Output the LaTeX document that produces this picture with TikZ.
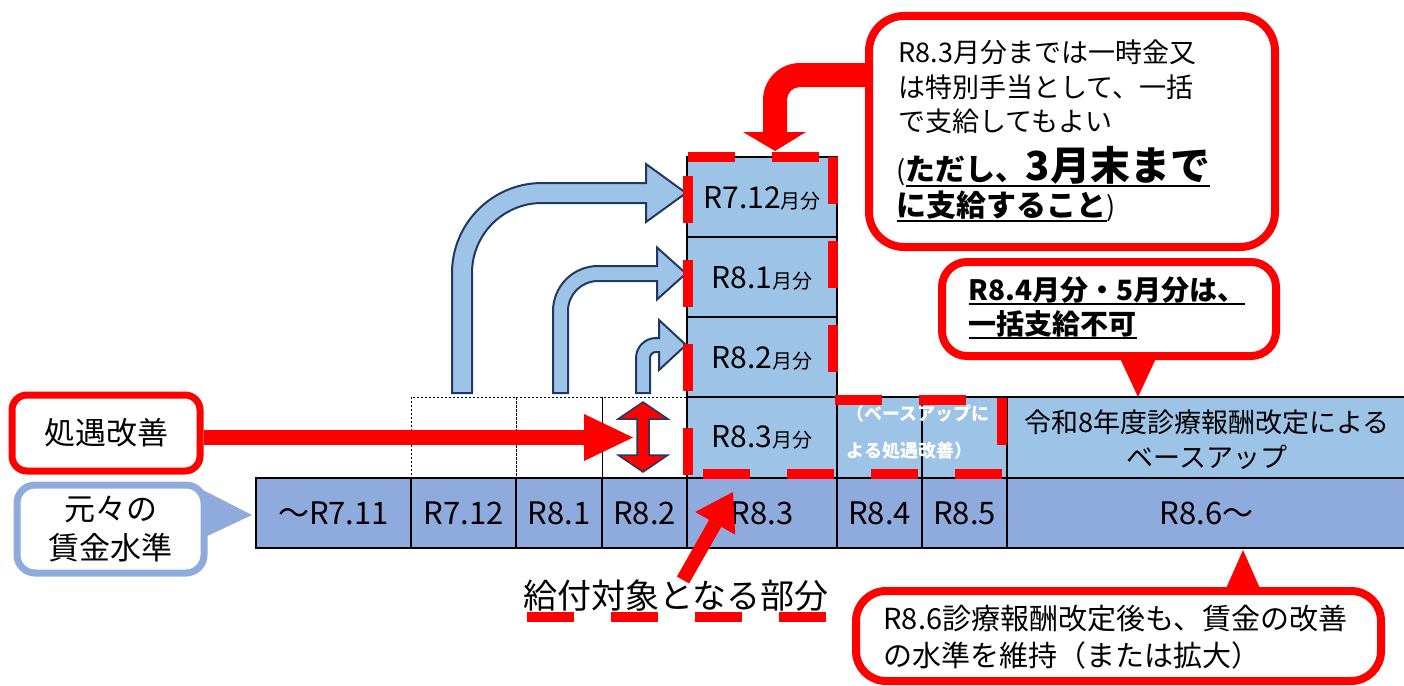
\documentclass[tikz,border=0pt]{standalone}
\usepackage{fontspec}
\setmainfont{Noto Sans CJK JP}
\usetikzlibrary{arrows.meta}
\definecolor{myred}{HTML}{FF0000}
\definecolor{lblue}{HTML}{9DC3E6}
\definecolor{bblue}{HTML}{8FAADC}
\definecolor{navy}{HTML}{203864}
\newcommand\fs[1]{\fontsize{#1}{#1}\selectfont}
\newcommand\myul[2][5]{\setbox0\hbox{#2}\rlap{\rule[-#1pt]{\wd0}{2.5pt}}\box0}
\newcommand\bentarrow[8]{%
  \pgfmathsetmacro\ri{#5-#2}%
  \filldraw[fill=lblue, draw=navy, line width=2pt, line join=miter]
    (#1,#3) -- (#1,#4+#5)
    .. controls (#1,#4+#5-0.552*#5) and (#1+#5-0.552*#5,#4) .. (#1+#5,#4)
    -- (#6,#4) -- (#6,#4+#2/2-#8) -- (#7,#4+#2/2) -- (#6,#4+#2/2+#8) -- (#6,#4+#2)
    -- (#1+#5,#4+#2)
    .. controls (#1+#5-0.552*\ri,#4+#2) and (#1+#2,#4+#5-0.552*\ri) .. (#1+#2,#4+#5)
    -- (#1+#2,#3) -- cycle;}
\begin{document}
\begin{tikzpicture}[x=1pt,y=-1pt,
  cellline/.style={draw=black, line width=1.5pt},
  dotbox/.style={draw=black, line width=0.8pt, dash pattern=on 2pt off 2pt},
  rdash/.style={draw=myred, line width=10pt, dash pattern=on 47pt off 37pt},
  redcall/.style={draw=myred, line width=8pt, fill=white},
  lbl/.style={font=\fs{31}},
  colbl/.style={font=\fs{30}},
]
\useasboundingbox (0,0) rectangle (1404,685);

% bottom row
\foreach \a/\b/\t/\n in {256/411/{～R7.11}/b1, 411/516/{R7.12}/b2, 516/602/{R8.1}/b3, 602/687/{R8.2}/b4, 687/837/{R8.3}/b5, 837/922/{R8.4}/b6, 922/1007/{R8.5}/b7, 1007/1406/{R8.6～}/b8}{
  \draw[cellline, fill=bblue] (\a,478) rectangle (\b,548);
  \node[lbl] (\n) at ({(\a+\b)/2},513) {\t};
}

% second row
\draw[dotbox] (411,397) rectangle (516,478);
\draw[dotbox] (516,397) rectangle (602,478);
\draw[dotbox] (602,397) rectangle (687,478);
\draw[cellline, fill=lblue] (687,397) rectangle (837,478);
\node[colbl] (m83) at (762,437) {R8.3{\fs{20}月分}};
\draw[cellline, fill=lblue] (837,397) rectangle (922,478);
\draw[cellline, fill=lblue] (922,397) rectangle (1007,478);
\draw[cellline, fill=lblue] (1007,397) rectangle (1406,478);
\node[anchor=west, align=left, text=white, font=\fontsize{18}{37}\selectfont\bfseries] (bu) at (843,432) {（ベースアップに\\よる処遇改善）};
\node[align=center, font=\fontsize{27}{35}\selectfont] (base) at (1207,440) {令和8年度診療報酬改定による\\ベースアップ};

% column
\draw[cellline, fill=lblue] (687,157) rectangle (837,237);
\draw[cellline, fill=lblue] (687,237) rectangle (837,317);
\draw[cellline, fill=lblue] (687,317) rectangle (837,397);
\node[colbl] (m712) at (762,198) {R7.12{\fs{20}月分}};
\node[colbl] (m81) at (762,278) {R8.1{\fs{20}月分}};
\node[colbl] (m82) at (762,358) {R8.2{\fs{20}月分}};

% blue bent arrows
\bentarrow{452}{20}{393}{183}{90}{646}{686}{29}
\bentarrow{553}{15}{393}{266}{45}{657}{686}{26}
\bentarrow{636}{14}{393}{338}{20}{659}{686}{25}

% red double arrow
\filldraw[fill=myred, draw=navy, line width=1.5pt, line join=miter]
  (643,402) -- (668,419) -- (649,419) -- (649,455) -- (668,455) -- (643,472)
  -- (618,455) -- (637,455) -- (637,419) -- (618,419) -- cycle;

% left boxes
\node[draw=myred, line width=7pt, rounded corners=15pt, minimum width=188pt, minimum height=76pt, fill=white, font=\fs{31}] (shogu) at (106,433) {処遇改善};
\fill[bblue] (203,490) -- (252,515) -- (203,538) -- cycle;
\node[draw=bblue, line width=7pt, rounded corners=18pt, minimum width=187pt, minimum height=88pt, fill=white, align=center, font=\fontsize{31}{39}\selectfont] (moto) at (110.5,529) {元々の\\賃金水準};

% red arrow from 処遇改善
\coordinate (ptip) at (633,437.5);
\draw[myred, line width=15pt, -{Triangle[length=49pt,width=47pt,line width=0pt]}] (shogu.east |- ptip) -- (ptip);

% target label
\node[font=\fs{34}] (gl) at (676,596) {給付対象となる部分};
\draw[myred, line width=10pt, dash pattern=on 47pt off 37pt] (527,617) -- (827,617);
\coordinate (gtail) at (683,580);
\coordinate (gtip) at (733,492);
\draw[myred, line width=14pt, -{Triangle[length=36pt,width=46pt,line width=0pt]}] (gtail) -- (gtip);

% top callout
\draw[redcall, rounded corners=35pt] (869,16) rectangle (1275,247);
\fill[myred] (871,63) -- (800,63) .. controls (779.6,63) and (763,79.6) .. (763,100)
  -- (763,132) -- (743,132) -- (775,151) -- (806,132) -- (787,132) -- (787,100)
  .. controls (787,92.8) and (792.8,87) .. (800,87) -- (871,87) -- cycle;
\node[anchor=base west, font=\fs{27}] (ta) at (895,63) {R8.3月分までは一時金又};
\node[anchor=base west, font=\fs{27}] (tb) at (895,97) {は特別手当として、一括};
\node[anchor=base west, font=\fs{27}] (tc) at (895,131) {で支給してもよい};
\node[anchor=base west, font=\fs{27}] (td) at (893,180) {(\myul[7]{\bfseries\fs{30}ただし、\fs{40}3月末まで}};
\node[anchor=base west, font=\fs{27}] (te) at (893,216) {\myul[6]{\bfseries\fs{30}に支給すること})};

% R8.4 callout
\fill[myred] (1118,354) -- (1158,354) -- (1138,397) -- cycle;
\draw[redcall, rounded corners=25pt] (942,262) rectangle (1276,356);
\node[anchor=base west, font=\fs{28}\bfseries] (ra) at (965,300) {\myul[5]{R8.4月分・5月分は、}};
\node[anchor=base west, font=\fs{28}\bfseries] (rb) at (965,334) {\myul[5]{一括支給不可}};

% bottom callout
\fill[myred] (1224,593) -- (1262,593) -- (1243,550) -- cycle;
\draw[redcall, rounded corners=30pt] (856,591) rectangle (1381,681);
\node[anchor=base west, font=\fs{29}] (ba) at (880,629) {R8.6診療報酬改定後も、賃金の改善};
\node[anchor=base west, font=\fs{29}] (bb) at (880,666) {の水準を維持（または拡大）};

% dashed outline
\draw[rdash] (688,157) -- (835,157);
\draw[rdash] (833,157) -- (833,400);
\draw[rdash] (835,400) -- (1002,400);
\draw[rdash] (1002,398) -- (1002,474);
\draw[rdash] (1002,474) -- (688,474);
\draw[rdash] (688,475) -- (688,157);
\end{tikzpicture}
\end{document}
